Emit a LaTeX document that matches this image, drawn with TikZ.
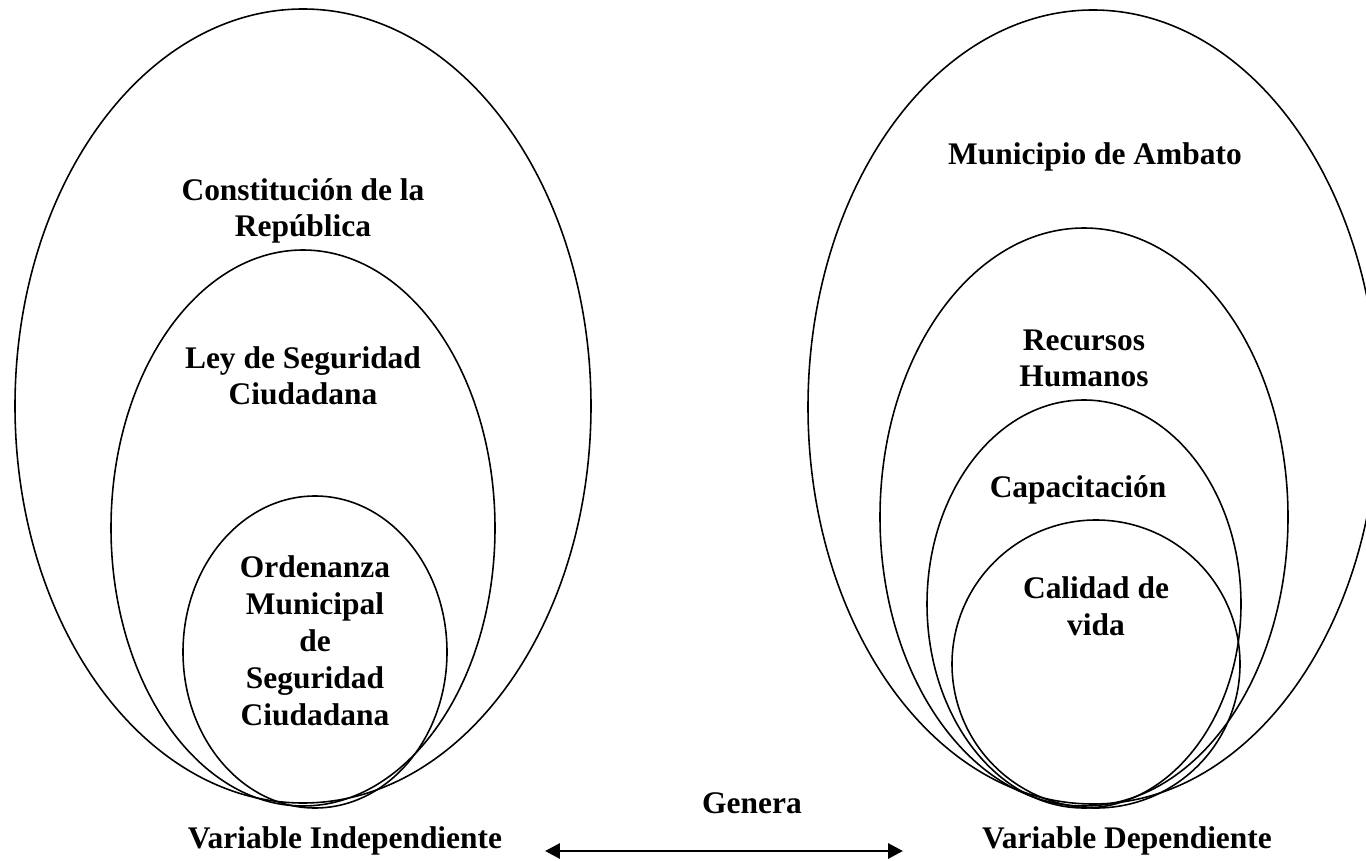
\documentclass[tikz,border=0pt]{standalone}
\usepackage{fontspec}
\setmainfont{Liberation Serif}
\usetikzlibrary{arrows.meta}

\begin{document}
\begin{tikzpicture}[x=0.02cm, y=-0.02cm,
    ring/.style={line width=0.9pt},
    ringtext/.style={font=\fontsize{17.9}{21}\selectfont\bfseries, align=center, anchor=base, inner sep=0pt},
    genarrow/.style={line width=1.7pt, {Triangle[length=8.5pt,width=8.5pt]}-{Triangle[length=8.5pt,width=8.5pt]}}]

    \useasboundingbox (0,0) rectangle (1366,861);

    % Independent variable (left)
    \draw[ring] (303,406) ellipse [x radius=288, y radius=397];
    \draw[ring] (303,528) ellipse [x radius=192, y radius=278];
    \draw[ring] (315,652) ellipse [x radius=132, y radius=156];

    % (multi-line labels sit on the baseline of their last line)
    \node[ringtext] (constitucion) at (303,237) {Constitución de la\\República};
    \node[ringtext] (ley) at (303,405) {Ley de Seguridad\\Ciudadana};
    \node[ringtext] (ordenanza) at (315,725) {Ordenanza\\Municipal\\de\\Seguridad\\Ciudadana};

    % Dependent variable (right)
    \draw[ring] (1093,407) ellipse [x radius=285, y radius=397];
    \draw[ring] (1084,517) ellipse [x radius=204, y radius=289];
    \draw[ring] (1084,604) ellipse [x radius=157, y radius=204];
    \draw[ring] (1096,664) ellipse [x radius=144, y radius=144];

    \node[ringtext] (municipio) at (1095,165) {Municipio de Ambato};
    \node[ringtext] (recursos) at (1084,387) {Recursos\\Humanos};
    \node[ringtext] (capacitacion) at (1078,498) {Capacitación};
    \node[ringtext] (calidad) at (1096,635) {Calidad de\\vida};

    % Variables and relation
    \node[ringtext] (indep) at (345,848) {Variable Independiente};
    \node[ringtext] (dep) at (1127,848) {Variable Dependiente};
    \node[ringtext] (genera) at (752,813) {Genera};

    \coordinate (genL) at (545,851);
    \coordinate (genR) at (903,851);
    \draw[genarrow] (genL) -- (genR);

\end{tikzpicture}
\end{document}
